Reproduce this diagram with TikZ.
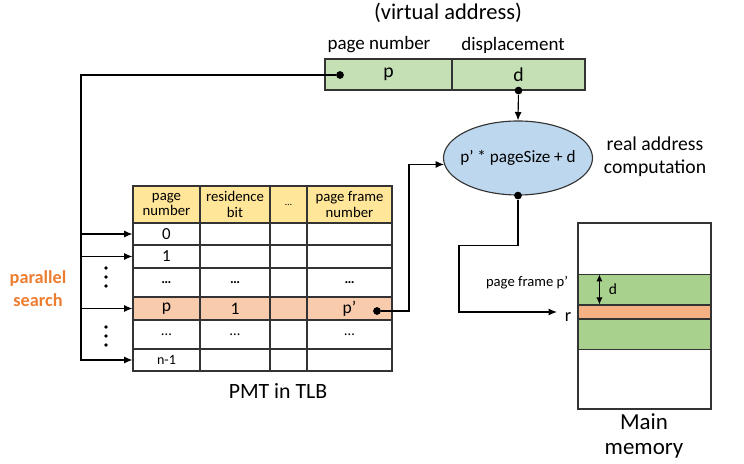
\documentclass[tikz,border=0pt]{standalone}
\usepackage{fontspec}
\setmainfont{Carlito}
\usetikzlibrary{arrows.meta,shapes.geometric}

\definecolor{addrgreen}{RGB}{197,224,180}
\definecolor{memgreen}{RGB}{169,209,142}
\definecolor{calcblue}{RGB}{189,215,238}
\definecolor{hdryellow}{RGB}{255,230,153}
\definecolor{rowpeach}{RGB}{248,203,173}
\definecolor{memorange}{RGB}{244,177,131}
\definecolor{searchorange}{RGB}{237,125,49}

\begin{document}
\begin{tikzpicture}[x=0.025cm, y=-0.025cm, line width=0.8pt,
    cell/.style 2 args={draw=black!80, inner sep=0pt, align=center,
        minimum width=#1*0.025cm, minimum height=#2*0.025cm,
        font=\fontsize{10.5}{11}\selectfont},
    dot/.style={circle, fill=black, inner sep=0pt, minimum size=5.5pt},
    arrow/.style={-{Latex[length=6pt,width=5pt]}},
    label/.style={inner sep=1pt, align=center}]
\useasboundingbox (0,0) rectangle (744,464);

% virtual address
\node[label, font=\fontsize{16}{17}\selectfont] (va) at (448,13) {(virtual address)};
\node[label, font=\fontsize{13.5}{15}\selectfont] (pnlab) at (379,45) {page number};
\node[label, font=\fontsize{13.5}{15}\selectfont] (displab) at (513,45) {displacement};
\node[cell={127}{31}, fill=addrgreen, font=\fontsize{14}{15}\selectfont] (pg) at (388.5,74.5) {p};
\node[cell={133}{31}, fill=addrgreen, font=\fontsize{14}{15}\selectfont] (disp) at (518.5,74.5) {d};
\node[dot] (pdot) at (340,75) {};
\node[dot] (ddot) at (disp.south) {};

% address computation
\node[ellipse, draw=black!80, fill=calcblue, inner sep=0pt, minimum width=149*0.025cm,
      minimum height=74*0.025cm] (calc) at (518,158) {};
\node[label, font=\fontsize{12.2}{14}\selectfont] (calctxt) at (calc.center) {p’ * pageSize + d};
\node[label, font=\fontsize{14}{16.5}\selectfont] (raclab) at (655,157) {real address\\computation};
\node[dot] (cdot) at (calc.south) {};
\draw[arrow] (ddot) -- (calc.north);

% PMT table
\node[cell={67}{37}, fill=hdryellow] (h-1) at (166.5,204.5) {page\\number};
\node[cell={70}{37}, fill=hdryellow] (h-2) at (235,204.5) {residence\\bit};
\node[cell={37}{37}, fill=hdryellow, font=\fontsize{7}{8}\selectfont] (h-3) at (288.5,204.5) {…};
\node[cell={85}{37}, fill=hdryellow] (h-4) at (349.5,204.5) {page frame\\number};

\node[cell={67}{22}, font=\fontsize{12}{12}\selectfont] (r0-1) at (166.5,234) {0};
\node[cell={70}{22}] (r0-2) at (235,234) {};
\node[cell={37}{22}] (r0-3) at (288.5,234) {};
\node[cell={85}{22}] (r0-4) at (349.5,234) {};

\node[cell={67}{23}, font=\fontsize{12}{12}\selectfont] (r1-1) at (166.5,256.5) {1};
\node[cell={70}{23}] (r1-2) at (235,256.5) {};
\node[cell={37}{23}] (r1-3) at (288.5,256.5) {};
\node[cell={85}{23}] (r1-4) at (349.5,256.5) {};

\node[cell={67}{29}, font=\bfseries] (r2-1) at (166.5,282.5) {…};
\node[cell={70}{29}, font=\bfseries] (r2-2) at (235,282.5) {…};
\node[cell={37}{29}] (r2-3) at (288.5,282.5) {};
\node[cell={85}{29}, font=\bfseries] (r2-4) at (349.5,282.5) {…};

\node[cell={67}{23}, fill=rowpeach, font=\fontsize{12.5}{12}\selectfont] (r3-1) at (166.5,308.5) {p};
\node[cell={70}{23}, fill=rowpeach, font=\fontsize{12.5}{12}\selectfont] (r3-2) at (235,308.5) {1};
\node[cell={37}{23}, fill=rowpeach] (r3-3) at (288.5,308.5) {};
\node[cell={85}{23}, fill=rowpeach, font=\fontsize{12.5}{12}\selectfont] (r3-4) at (349.5,308.5) {p’};

\node[cell={67}{29}] (r4-1) at (166.5,334.5) {…};
\node[cell={70}{29}] (r4-2) at (235,334.5) {…};
\node[cell={37}{29}] (r4-3) at (288.5,334.5) {};
\node[cell={85}{29}] (r4-4) at (349.5,334.5) {…};

\node[cell={67}{22}, font=\fontsize{10}{10}\selectfont] (r5-1) at (166.5,360) {n-1};
\node[cell={70}{22}] (r5-2) at (235,360) {};
\node[cell={37}{22}] (r5-3) at (288.5,360) {};
\node[cell={85}{22}] (r5-4) at (349.5,360) {};

\node[label, font=\fontsize{15.5}{17}\selectfont] (pmt) at (278,391) {PMT in TLB};
\node[dot] (pfdot) at (377,311) {};

% parallel search lines
\coordinate (bus) at (81,75);
\draw[arrow] (pdot) -- (bus) |- (r5-1.west);
\foreach \r in {0,1,3}
    \draw[arrow] (bus |- r\r-1.west) -- (r\r-1.west);
\foreach \yy in {268,277,286,327,336,345}
    \fill (106,\yy) circle (1.8);
\node[label, text=searchorange, font=\bfseries\fontsize{13}{16.5}\selectfont] (ps) at (38,289) {parallel\\search};

% p' to computation
\draw[arrow] (pfdot) -- ++(32,0) |- (calc.185);

% main memory
\node[draw=none, fill=memgreen, minimum width=133*0.025cm, minimum height=74*0.025cm, inner sep=0pt] (frame) at (644.5,312) {};
\node[draw=black!80, fill=memorange, minimum width=133*0.025cm, minimum height=14*0.025cm, inner sep=0pt] (rslot) at (644.5,312) {};
\draw[black!80] (frame.north west) -- (frame.north east);
\draw[black!80] (frame.south west) -- (frame.south east);
\node[draw=black!80, minimum width=133*0.025cm, minimum height=186*0.025cm, inner sep=0pt] (mem) at (644.5,316) {};
\draw[{Latex[length=5pt,width=4.5pt]}-{Latex[length=5pt,width=4.5pt]}] ([xshift=0.55cm]frame.north west) -- ([xshift=0.55cm]rslot.north west);
\node[label, font=\fontsize{11}{12}\selectfont] (dlab) at (613,289) {d};
\node[label, font=\fontsize{16.3}{17.5}\selectfont] (memlab) at (644,436) {Main\\memory};

% real address
\node[label, font=\fontsize{10.4}{12}\selectfont] (pflab) at (527,283) {page frame p’};
\node[label, font=\fontsize{13}{14}\selectfont] (rlab) at (568,317) {r};
\coordinate (rin) at (557,312);
\draw[arrow] (cdot) -- ++(0,50) -- ++(-59,0) |- (rin);

\end{tikzpicture}
\end{document}
